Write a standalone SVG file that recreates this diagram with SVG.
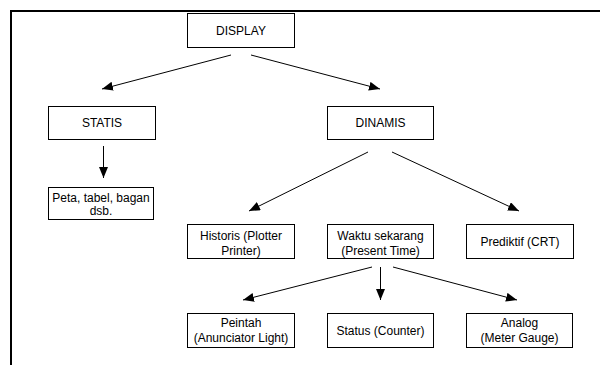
<svg xmlns="http://www.w3.org/2000/svg" width="600" height="365" viewBox="0 0 600 365">
<style>
.box{fill:#fff;stroke:#000;stroke-width:1}
.t{font-family:"Liberation Sans",Arial,sans-serif;font-size:12px;fill:#000;text-anchor:middle}
.c{stroke:#000;stroke-width:1;fill:none;marker-end:url(#ah)}
.frame{stroke:#000;stroke-width:2;fill:none}
</style>
<defs>
<marker id="ah" markerUnits="userSpaceOnUse" markerWidth="12" markerHeight="10" refX="11" refY="4.5" orient="auto">
<path d="M0,0 L11,4.5 L0,9 z" fill="#000"/>
</marker>
</defs>
<rect width="600" height="365" fill="#fff"/>
<path class="frame" d="M11,365 V11 H600"/>
<g id="display"><rect class="box" x="187.5" y="13.5" width="107" height="34"/><text class="t" x="241" y="34.5">DISPLAY</text></g>
<g id="statis"><rect class="box" x="48.5" y="106.5" width="107" height="33"/><text class="t" x="102" y="127">STATIS</text></g>
<g id="dinamis"><rect class="box" x="327.5" y="106.5" width="106" height="33"/><text class="t" x="380.5" y="127">DINAMIS</text></g>
<g id="peta"><rect class="box" x="48.5" y="187.5" width="105" height="32"/><text class="t" x="101" y="201.5">Peta, tabel, bagan</text><text class="t" x="101" y="215">dsb.</text></g>
<g id="historis"><rect class="box" x="187.5" y="224.5" width="107" height="34"/><text class="t" x="241" y="240">Historis (Plotter</text><text class="t" x="241" y="254.5">Printer)</text></g>
<g id="waktu"><rect class="box" x="327.5" y="224.5" width="106" height="34"/><text class="t" x="380.5" y="240">Waktu sekarang</text><text class="t" x="380.5" y="254.5">(Present Time)</text></g>
<g id="prediktif"><rect class="box" x="466.5" y="224.5" width="107" height="34"/><text class="t" x="520" y="245.5">Prediktif (CRT)</text></g>
<g id="peintah"><rect class="box" x="187.5" y="313.5" width="107" height="34"/><text class="t" x="241" y="327">Peintah</text><text class="t" x="241" y="341.5">(Anunciator Light)</text></g>
<g id="status"><rect class="box" x="327.5" y="313.5" width="106" height="34"/><text class="t" x="380.5" y="334.5">Status (Counter)</text></g>
<g id="analog"><rect class="box" x="466.5" y="313.5" width="106" height="34"/><text class="t" x="519.5" y="327">Analog</text><text class="t" x="519.5" y="341.5">(Meter Gauge)</text></g>
<g id="connectors">
<line class="c" x1="231" y1="55" x2="102" y2="89"/>
<line class="c" x1="251" y1="55" x2="380" y2="89"/>
<line class="c" x1="103.5" y1="146" x2="103.5" y2="178"/>
<line class="c" x1="368" y1="152" x2="249" y2="211"/>
<line class="c" x1="392" y1="152" x2="519" y2="211"/>
<line class="c" x1="372" y1="267" x2="243" y2="300"/>
<line class="c" x1="380.5" y1="267" x2="380.5" y2="300"/>
<line class="c" x1="393" y1="267" x2="517" y2="300"/>
</g>
</svg>
